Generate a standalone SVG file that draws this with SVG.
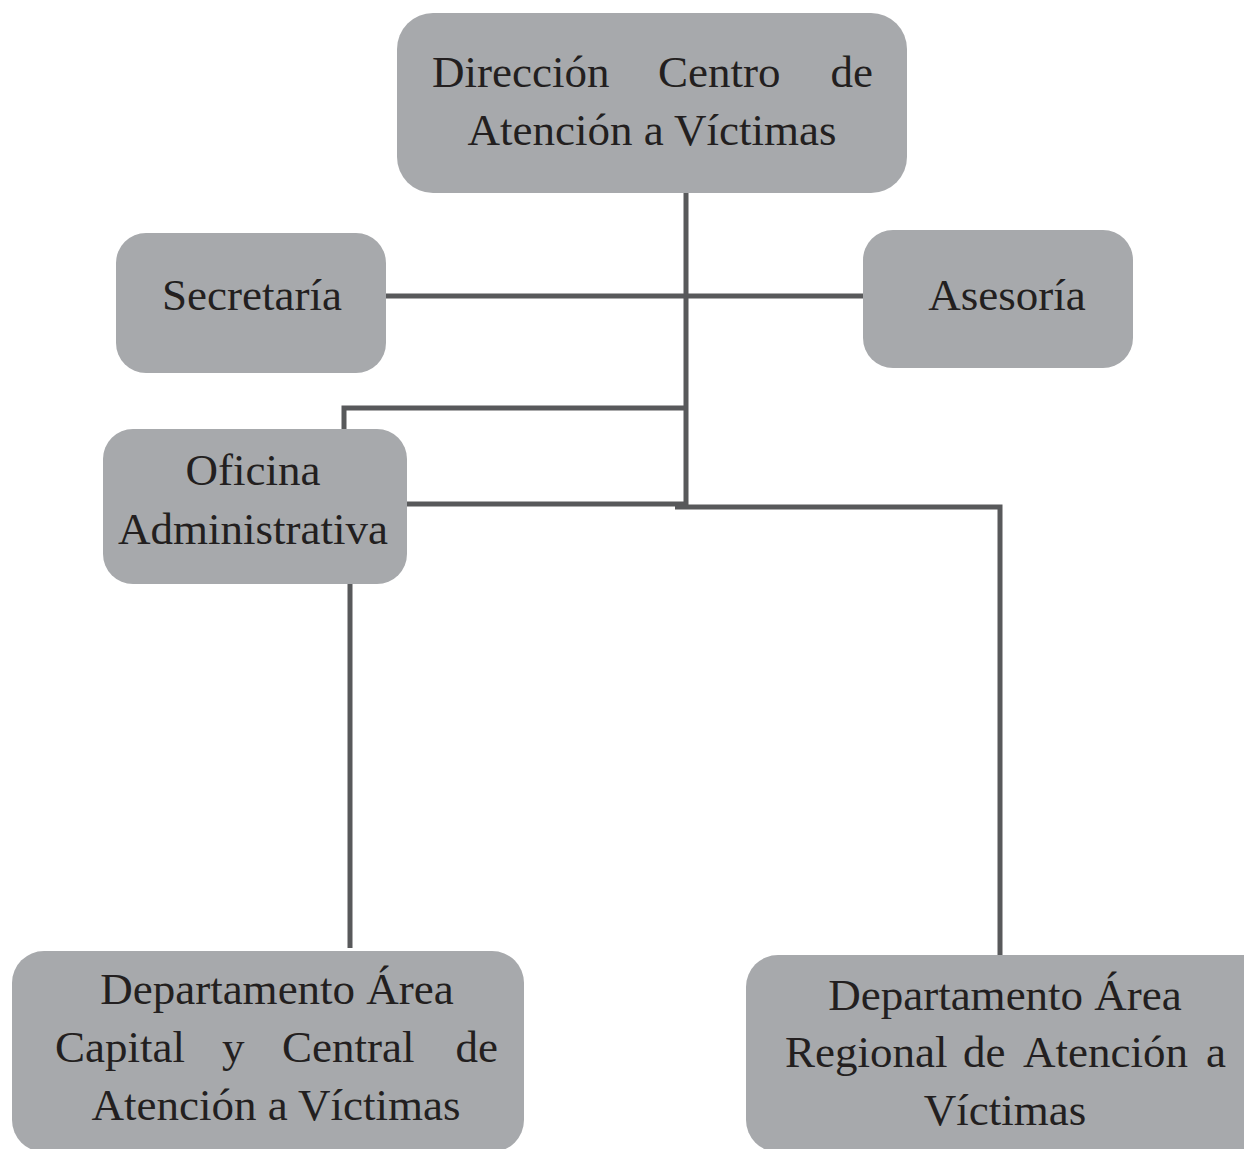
<svg xmlns="http://www.w3.org/2000/svg" width="1244" height="1149" viewBox="0 0 1244 1149">
<style>
.node{fill:#a7a9ac;}
.t{font-family:"Liberation Serif","DejaVu Serif",serif;font-size:45px;fill:#231f20;}
.c{text-anchor:middle;}
.e{text-anchor:end;}
.ln{stroke:#58595b;stroke-width:5;fill:none;}
</style>
<rect width="1244" height="1149" fill="#ffffff"/>
<g id="connectors">
<line class="ln" x1="686" y1="190" x2="686" y2="508"/>
<line class="ln" x1="386" y1="296" x2="864" y2="296"/>
<polyline class="ln" points="686,408 344,408 344,432"/>
<line class="ln" x1="405" y1="504" x2="686" y2="504"/>
<polyline class="ln" points="675,507 1000,507 1000,956"/>
<line class="ln" x1="350" y1="582" x2="350" y2="948"/>
</g>
<g id="direccion">
<rect class="node" x="397" y="13" width="510" height="180" rx="36"/>
<text class="t" x="432" y="87">Dirección</text>
<text class="t" x="658" y="87">Centro</text>
<text class="t e" x="873" y="87">de</text>
<text class="t c" x="652" y="145">Atención a Víctimas</text>
</g>
<g id="secretaria">
<rect class="node" x="116" y="233" width="270" height="140" rx="30"/>
<text class="t c" x="252" y="310">Secretaría</text>
</g>
<g id="asesoria">
<rect class="node" x="863" y="230" width="270" height="138" rx="30"/>
<text class="t c" x="1007" y="310">Asesoría</text>
</g>
<g id="oficina">
<rect class="node" x="103" y="429" width="304" height="155" rx="30"/>
<text class="t c" x="253" y="485">Oficina</text>
<text class="t c" x="253" y="544">Administrativa</text>
</g>
<g id="depto-capital">
<rect class="node" x="12" y="951" width="512" height="201" rx="32"/>
<text class="t c" x="277" y="1004">Departamento Área</text>
<text class="t" x="55" y="1062">Capital</text>
<text class="t" x="222" y="1062">y</text>
<text class="t" x="282" y="1062">Central</text>
<text class="t e" x="498" y="1062">de</text>
<text class="t c" x="276" y="1120">Atención a Víctimas</text>
</g>
<g id="depto-regional">
<rect class="node" x="746" y="955" width="530" height="197" rx="32"/>
<text class="t c" x="1005" y="1010">Departamento Área</text>
<text class="t" x="785" y="1067">Regional</text>
<text class="t" x="963" y="1067">de</text>
<text class="t" x="1023" y="1067">Atención</text>
<text class="t e" x="1226" y="1067">a</text>
<text class="t c" x="1005" y="1125">Víctimas</text>
</g>
</svg>
